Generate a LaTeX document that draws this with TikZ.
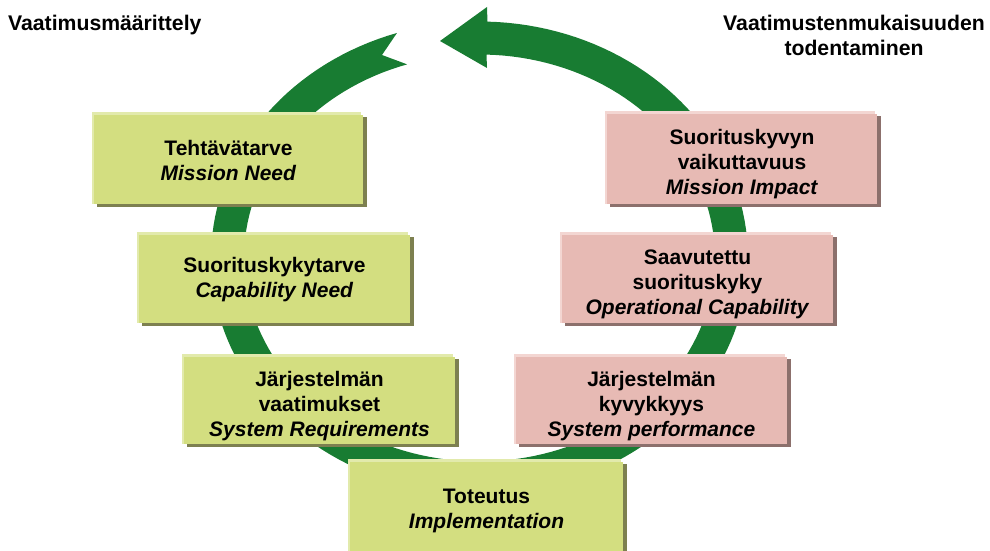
\documentclass[tikz,border=0pt]{standalone}
\usepackage{fontspec}
\setmainfont{Liberation Sans}

\definecolor{ringgreen}{RGB}{24,124,50}
\definecolor{needfill}{RGB}{211,222,128}
\definecolor{needlight}{RGB}{226,234,172}
\definecolor{needshadow}{RGB}{125,128,80}
\definecolor{checkfill}{RGB}{231,186,180}
\definecolor{checklight}{RGB}{243,214,210}
\definecolor{checkshadow}{RGB}{140,112,108}

\tikzset{
  boxtext/.style={align=center, inner sep=0pt, text=black, yshift=-1.5pt,
    font=\bfseries\fontsize{21}{25}\selectfont},
  threeline/.style={yshift=-4.5pt},
  titletext/.style={align=center, inner sep=0pt, text=black,
    font=\bfseries\fontsize{21.2}{25}\selectfont},
}

% bevelled panel: node options, left, top, right, bottom, fill, highlight, shadow, text
\newcommand\panel[9]{%
  \fill[#8] (#2+5,#3+5) rectangle (#4+4,#5+3);
  \fill[#7] (#2,#3) rectangle (#4-2,#5);
  \fill[#6] (#2+2,#3+3) rectangle (#4,#5);
  \node[boxtext,#1] at ({(#2+#4)/2+1},{(#3+#5)/2+1}) {#9};
}

\begin{document}
\begin{tikzpicture}[x=1pt,y=-1pt]
\useasboundingbox (0,0) rectangle (990,551);
\clip (0,0) rectangle (990,551);

% circular arrow with notched tail
\fill[ringgreen]
  plot[domain=107.9:448.3, samples=160] ({479.5+268.5*cos(\x)},{258-236.5*sin(\x)})
  -- (487,7) -- (440,41) -- (487,68)
  -- plot[domain=448.3:107.9, samples=160] ({479.5+235.5*cos(\x)},{258-203.5*sin(\x)})
  -- (382,55) -- cycle;

% titles
\node[titletext, anchor=north west] (reqdef) at (8,15) {Vaatimusmäärittely};
\node[titletext, anchor=north] (verif) at (854,15) {Vaatimustenmukaisuuden\\todentaminen};

% requirement side
\panel{name=need}{92}{112}{363}{204}{needfill}{needlight}{needshadow}{Tehtävätarve\\\textit{Mission Need}}
\panel{name=capneed}{137}{232}{410}{323}{needfill}{needlight}{needshadow}{Suorituskykytarve\\\textit{Capability Need}}
\panel{name=sysreq,threeline}{182}{354}{455}{444}{needfill}{needlight}{needshadow}{Järjestelmän\\vaatimukset\\\textit{System Requirements}}
\panel{name=impl}{348}{459}{623}{557}{needfill}{needlight}{needshadow}{Toteutus\\\textit{Implementation}}

% verification side
\panel{name=impact,threeline}{605}{111}{877}{204}{checkfill}{checklight}{checkshadow}{Suorituskyvyn\\vaikuttavuus\\\textit{Mission Impact}}
\panel{name=opcap,threeline}{560}{232}{833}{323}{checkfill}{checklight}{checkshadow}{Saavutettu\\suorituskyky\\\textit{Operational Capability}}
\panel{name=sysperf,threeline}{514}{354}{787}{444}{checkfill}{checklight}{checkshadow}{Järjestelmän\\kyvykkyys\\\textit{System performance}}
\end{tikzpicture}
\end{document}
